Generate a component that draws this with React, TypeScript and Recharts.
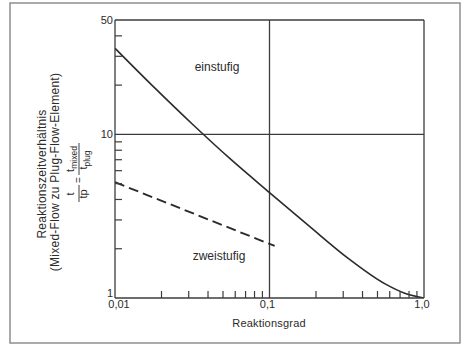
import { LineChart, Line, XAxis, YAxis, ReferenceLine } from 'recharts';

const FONT = '"Liberation Sans", Arial, Helvetica, sans-serif';
const INK = '#2b2b2b';
const GRID = '#3c3c3c';

// einstufig (solid curve)
const oneStageX = [0.01, 0.018, 0.032, 0.056, 0.1, 0.18, 0.32, 0.56, 0.75, 1.0];
const oneStageY = [33.6, 19.3, 11.45, 7.05, 4.41, 2.76, 1.76, 1.22, 1.07, 1.0];

// zweistufig (dashed line)
const twoStageX = [0.01, 0.108];
const twoStageY = [5.1, 2.08];

const xMajorTicks = [0.01, 0.1, 1];
const xMajorLabels = ['0,01', '0,1', '1,0'];
const xMinorTicks = [0.02, 0.03, 0.04, 0.05, 0.06, 0.07, 0.08, 0.09, 0.2, 0.3, 0.4, 0.5, 0.6, 0.7, 0.8, 0.9];

const yMajorTicks = [1, 10, 50];
const yMajorLabels = ['1', '10', '50'];
const yMinorTicks = [2, 3, 4, 5, 6, 7, 8, 9, 20, 30, 40];

const oneStage = oneStageX.map((x, i) => ({ x, y: oneStageY[i] }));
const twoStage = twoStageX.map((x, i) => ({ x, y: twoStageY[i] }));
const xTicks = [...xMajorTicks, ...xMinorTicks].sort((a, b) => a - b);
const yTicks = [...yMajorTicks, ...yMinorTicks].sort((a, b) => a - b);

function XTick({ x, y, payload }: any) {
  const i = xMajorTicks.indexOf(payload.value);
  if (i < 0) {
    return <line x1={x} x2={x} y1={y} y2={y - 7} stroke={GRID} strokeWidth={1.2} />;
  }
  return (
    <text
      x={x + (i === 0 ? 4 : -2)}
      y={y + 10}
      textAnchor="middle"
      fontSize={11}
      fontFamily={FONT}
      fill={INK}
    >
      {xMajorLabels[i]}
    </text>
  );
}

function YTick({ x, y, payload }: any) {
  const i = yMajorTicks.indexOf(payload.value);
  if (i < 0) {
    return <line x1={x} x2={x + 7} y1={y} y2={y} stroke={GRID} strokeWidth={1.2} />;
  }
  return (
    <text
      x={x - 2}
      y={y + 4 - (payload.value === 1 ? 5 : 0)}
      textAnchor="end"
      fontSize={11}
      fontFamily={FONT}
      fill={INK}
    >
      {yMajorLabels[i]}
    </text>
  );
}

export default function App() {
  return (
    <div style={{ position: 'absolute', left: 0, top: 0, width: 463, height: 346, background: '#fff' }}>
      <LineChart width={463} height={346} margin={{ top: 20, right: 39, left: 55, bottom: 0 }}>
        <XAxis
          dataKey="x"
          type="number"
          scale="log"
          domain={[0.01, 1]}
          allowDataOverflow
          ticks={xTicks}
          interval={0}
          tickSize={0}
          tickMargin={0}
          tick={(p: any) => <XTick {...p} />}
          axisLine={{ stroke: GRID, strokeWidth: 1.3 }}
          height={48}
        />
        <YAxis
          dataKey="y"
          type="number"
          scale="log"
          domain={[1, 50]}
          allowDataOverflow
          ticks={yTicks}
          interval={0}
          tickSize={0}
          tickMargin={0}
          tick={(p: any) => <YTick {...p} />}
          axisLine={{ stroke: GRID, strokeWidth: 1.3 }}
          width={60}
        />
        <ReferenceLine x={0.1} stroke={GRID} strokeWidth={1.3} />
        <ReferenceLine x={1} stroke={GRID} strokeWidth={1.3} />
        <ReferenceLine y={10} stroke={GRID} strokeWidth={1.3} />
        <ReferenceLine y={50} stroke={GRID} strokeWidth={1.3} />
        <Line
          data={oneStage}
          dataKey="y"
          type="monotone"
          stroke={INK}
          strokeWidth={1.6}
          dot={false}
          isAnimationActive={false}
        />
        <Line
          data={twoStage}
          dataKey="y"
          type="linear"
          stroke={INK}
          strokeWidth={1.9}
          strokeDasharray="10 5"
          dot={false}
          isAnimationActive={false}
        />
      </LineChart>
      <svg
        width={463}
        height={346}
        style={{ position: 'absolute', left: 0, top: 0, pointerEvents: 'none' }}
        fontFamily={FONT}
        fill={INK}
      >
        <rect x={10} y={3} width={450} height={340} fill="none" stroke="#8f8f8f" strokeWidth={1.5} />
        <text x={217} y={71} textAnchor="middle" fontSize={12}>einstufig</text>
        <text x={219} y={260} textAnchor="middle" fontSize={12}>zweistufig</text>
        <text x={269} y={327} textAnchor="middle" fontSize={11} letterSpacing={0.2}>Reaktionsgrad</text>
        <g transform="rotate(-90)">
          <text x={-174} y={46} textAnchor="middle" fontSize={12} letterSpacing={0.25}>
            Reaktionszeitverhältnis
          </text>
          <text x={-172} y={59} textAnchor="middle" fontSize={12} letterSpacing={0.25}>
            (Mixed-Flow zu Plug-Flow-Element)
          </text>
          <text x={-194} y={74} textAnchor="middle" fontSize={11}>t</text>
          <line x1={-202} x2={-185} y1={79} y2={79} stroke={INK} strokeWidth={0.9} />
          <text x={-194} y={87} textAnchor="middle" fontSize={11}>tp</text>
          <text x={-180} y={82} textAnchor="middle" fontSize={10}>=</text>
          <text x={-159} y={74} textAnchor="middle" fontSize={11}>
            t<tspan fontSize={8.5} dy={2.5}>mixed</tspan>
          </text>
          <line x1={-175} x2={-143} y1={79} y2={79} stroke={INK} strokeWidth={0.9} />
          <text x={-160} y={87} textAnchor="middle" fontSize={11}>
            t<tspan fontSize={8.5} dy={2.5}>plug</tspan>
          </text>
        </g>
      </svg>
    </div>
  );
}
